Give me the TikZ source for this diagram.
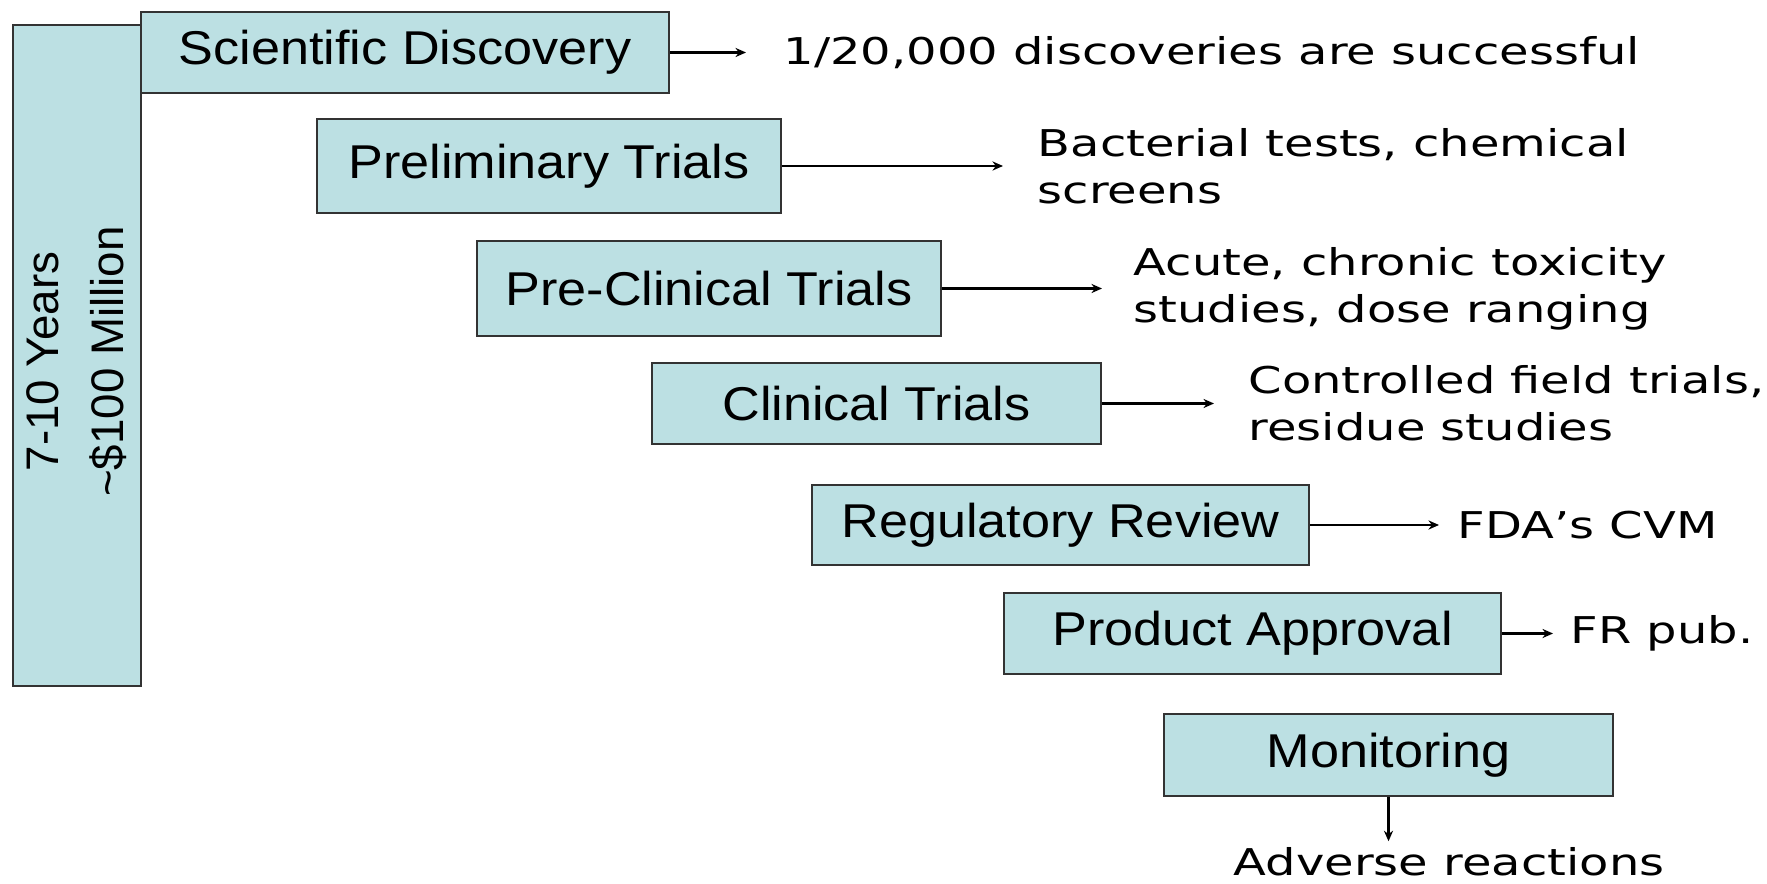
\documentclass[tikz,border=0pt]{standalone}
\usepackage{fontspec}
\usepackage{tikz}
\usetikzlibrary{arrows.meta}

\newfontfamily\boxfont[FakeStretch=1.1]{Liberation Sans}
\newfontfamily\sidefont{Liberation Sans}
\newfontfamily\notefont[FakeStretch=1.3]{DejaVu Sans}
\definecolor{stagefill}{RGB}{188,224,227}

\begin{document}
\begin{tikzpicture}
    \useasboundingbox (0,0) rectangle (17.67,8.83);

    \begin{scope}[every node/.style={draw=black!80,fill=stagefill,line width=0.6pt,
        inner sep=0pt,font=\boxfont\fontsize{13.5}{16}\selectfont}]
      \node[minimum width=1.28cm,minimum height=6.61cm] (span) at (0.77,5.275) {};
      \node[minimum width=5.28cm,minimum height=0.81cm] (disc) at (4.05,8.305) {Scientific Discovery};
      \node[minimum width=4.64cm,minimum height=0.94cm] (prelim) at (5.49,7.17) {Preliminary Trials};
      \node[minimum width=4.64cm,minimum height=0.95cm] (preclin) at (7.09,5.945) {Pre-Clinical Trials};
      \node[minimum width=4.49cm,minimum height=0.81cm] (clin) at (8.765,4.795) {Clinical Trials};
      \node[minimum width=4.97cm,minimum height=0.80cm] (review) at (10.605,3.58) {Regulatory Review};
      \node[minimum width=4.97cm,minimum height=0.81cm] (approval) at (12.525,2.495) {Product Approval};
      \node[minimum width=4.49cm,minimum height=0.82cm] (monitor) at (13.885,1.28) {Monitoring};
    \end{scope}

    \node[rotate=90,align=center,inner sep=0pt,font=\sidefont\fontsize{13}{18.5}\selectfont]
      (spantext) at ([yshift=-0.06cm]span) {7-10 Years\\\textasciitilde\$100 Million};

    \begin{scope}[every node/.style={anchor=west,align=left,inner sep=0pt,
        font=\notefont\fontsize{10.5}{13.4}\selectfont}]
      \node (discnote) at (7.83,8.305) {1/20,000 discoveries are successful};
      \node (prelimnote) at (10.37,7.17) {Bacterial tests, chemical\\screens};
      \node (preclinnote) at (11.33,5.945) {Acute, chronic toxicity\\studies, dose ranging};
      \node (clinnote) at (12.48,4.795) {Controlled field trials,\\residue studies};
      \node (reviewnote) at (14.57,3.58) {FDA’s CVM};
      \node (approvalnote) at (15.70,2.495) {FR pub.};
      \node[anchor=base west] (monitornote) at (12.33,0.08) {Adverse reactions};
    \end{scope}

    \begin{scope}[>={Stealth[length=3pt,width=2.6pt]},
        every edge/.style={draw,line width=0.6pt,shorten >=3.4mm}]
      \path [->] (disc) edge[shorten >=3.7mm] (discnote);
      \path [->] (prelim) edge (prelimnote);
      \path [->] (preclin) edge[shorten >=3.1mm] (preclinnote);
      \path [->] (clin) edge (clinnote);
      \path [->] (review) edge[shorten >=1.8mm] (reviewnote);
      \path [->] (approval) edge[shorten >=1.7mm] (approvalnote);
      \path [->] (monitor) edge[shorten >=0.5mm] (monitor.south |- monitornote.north);
    \end{scope}
  \end{tikzpicture}
\end{document}
